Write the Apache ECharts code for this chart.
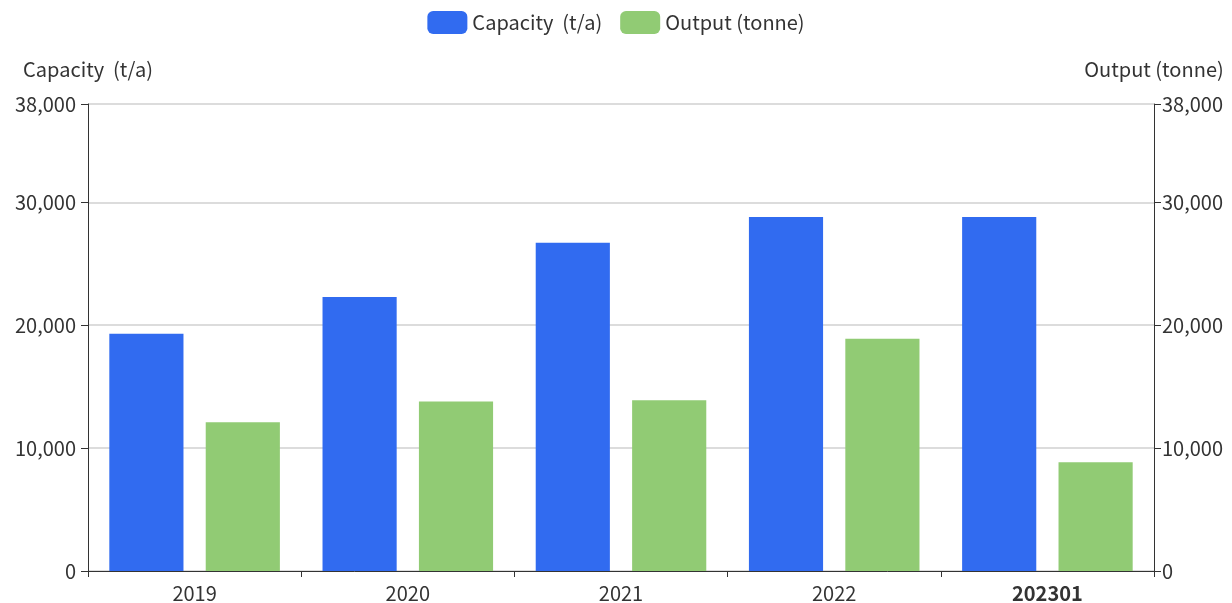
<!DOCTYPE html>
<html>
<head>
<meta charset="utf-8">
<script src="https://cdn.jsdelivr.net/npm/echarts@6/dist/echarts.min.js"></script>
<style>
html,body{margin:0;padding:0;background:#fff;}
#chart{width:1232px;height:603px;}
</style>
</head>
<body>
<div id="chart"></div>
<script>
const categories = ['2019', '2020', '2021', '2022', '202301'];
const capacity = [19300, 22300, 26700, 28800, 28800];
const output = [12100, 13800, 13900, 18900, 8850];
const yTicks = { min: 0, max: 38000, interval: 10000 };
const seriesNames = ['Capacity  (t/a)', 'Output (tonne)'];

const FONT = '"Noto Sans CJK SC", "Noto Sans", sans-serif';
const FS = 20;
const chart = echarts.init(document.getElementById('chart'));
const axisCommon = {
  type: 'value',
  min: yTicks.min,
  max: yTicks.max,
  interval: yTicks.interval,
  nameLocation: 'end',
  nameGap: 25,
  nameTextStyle: { color: '#333', fontSize: FS, fontFamily: FONT },
  axisLine: { show: true, lineStyle: { color: '#333' } },
  axisTick: { show: true, length: 7, lineStyle: { color: '#333' } },
  splitLine: { show: false }
};
const labelCommon = {
  color: '#333', fontSize: FS, fontFamily: FONT,
  formatter: v => v.toLocaleString('en-US')
};
chart.setOption({
  animation: false,
  textStyle: { fontFamily: FONT },
  color: ['#316bf0', '#91cb74'],
  legend: {
    top: 6,
    left: 'center',
    itemWidth: 40,
    itemHeight: 23,
    itemGap: 18,
    textStyle: { color: '#333', fontSize: FS, fontFamily: FONT },
    data: seriesNames
  },
  grid: { left: 88, right: 78, top: 104, bottom: 31, containLabel: false },
  xAxis: {
    type: 'category',
    data: categories.map((c, i) => i === categories.length - 1
      ? { value: c, textStyle: { fontWeight: 'bold' } } : c),
    axisLine: { show: true, lineStyle: { color: '#333' } },
    axisTick: { show: true, length: 6, lineStyle: { color: '#333' } },
    axisLabel: { color: '#333', fontSize: FS, fontFamily: FONT, margin: 12 }
  },
  yAxis: [
    Object.assign({}, axisCommon, {
      name: seriesNames[0],
      position: 'left',
      axisLabel: Object.assign({}, labelCommon, { margin: 12 }),
      splitLine: { show: true, lineStyle: { color: '#d0d0d0', width: 1.5 } }
    }),
    Object.assign({}, axisCommon, {
      name: seriesNames[1],
      position: 'right',
      axisLabel: Object.assign({}, labelCommon, { margin: 8 })
    })
  ],
  series: [
    { name: seriesNames[0], type: 'bar', yAxisIndex: 0, data: capacity, barGap: '30%', barCategoryGap: '20%' },
    { name: seriesNames[1], type: 'bar', yAxisIndex: 1, data: output, barGap: '30%', barCategoryGap: '20%' }
  ]
});
</script>
</body>
</html>
